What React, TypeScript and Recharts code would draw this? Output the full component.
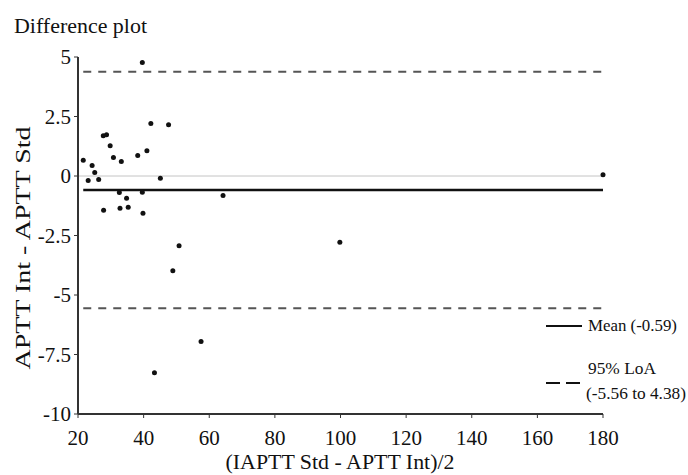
import React from 'react';
import {
  ScatterChart,
  Scatter,
  XAxis,
  YAxis,
  ReferenceLine,
} from 'recharts';

// ─── Data ─────────────────────────────────────────────────────────────────────

// mean of (APTT Std, APTT Int) pairs
const avgValues = [
  21.6, 23.1, 24.3, 25.1, 26.3, 27.7, 28.7, 29.8, 30.8, 33.2,
  38.2, 39.6, 41.0, 42.2, 47.6, 45.1, 32.6, 34.8, 39.6, 64.2,
  27.8, 32.8, 35.3, 39.8, 50.8, 48.9, 57.5, 43.3, 99.8, 180,
];

// APTT Int - APTT Std
const diffValues = [
  0.66, -0.19, 0.44, 0.15, -0.15, 1.69, 1.73, 1.27, 0.78, 0.61,
  0.86, 4.77, 1.06, 2.21, 2.15, -0.09, -0.69, -0.93, -0.68, -0.82,
  -1.44, -1.35, -1.31, -1.56, -2.93, -3.98, -6.95, -8.27, -2.78, 0.05,
];

const meanDiff = -0.59;
const loaLower = -5.56;
const loaUpper = 4.38;

const xTicks = [20, 40, 60, 80, 100, 120, 140, 160, 180];
const yTicks = [-10, -7.5, -5, -2.5, 0, 2.5, 5];

const points = avgValues.map((x, i) => ({ x, y: diffValues[i] }));
const xMin = Math.min(...avgValues);
const xMax = Math.max(...avgValues);

// ─── Styles ───────────────────────────────────────────────────────────────────

const FONT = "'Liberation Serif', 'Times New Roman', serif";

const XTick = (props: any) => (
  <text
    x={props.x}
    y={props.y}
    dy="0.71em"
    textAnchor="middle"
    fontSize={21}
    fill="#111"
    style={{ fontFamily: FONT }}
  >
    {props.payload.value}
  </text>
);

const YTick = (props: any) => (
  <text
    x={props.x}
    y={props.y}
    dy="0.35em"
    textAnchor="end"
    fontSize={21}
    fill="#111"
    style={{ fontFamily: FONT }}
  >
    {props.payload.value}
  </text>
);

const Dot = (props: any) => (
  <circle cx={props.cx} cy={props.cy} r={2.5} fill="#111" />
);

export default function App() {
  return (
    <div
      style={{
        position: 'absolute',
        left: 0,
        top: 0,
        width: 688,
        height: 475,
        background: '#fff',
        fontFamily: FONT,
      }}
    >
      <ScatterChart
        width={688}
        height={475}
        margin={{ top: 57, right: 85, bottom: 0, left: 0 }}
      >
        <XAxis
          type="number"
          dataKey="x"
          domain={[20, 180]}
          ticks={xTicks}
          interval={0}
          height={61}
          tickSize={4}
          tickMargin={12}
          axisLine={{ stroke: '#333', strokeWidth: 2 }}
          tickLine={{ stroke: '#333' }}
          tick={<XTick />}
        />
        <YAxis
          type="number"
          dataKey="y"
          domain={[-10, 5]}
          ticks={yTicks}
          interval={0}
          width={78}
          tickSize={4}
          tickMargin={3}
          axisLine={{ stroke: '#333', strokeWidth: 2 }}
          tickLine={{ stroke: '#333' }}
          tick={<YTick />}
        />
        <ReferenceLine y={0} stroke="#c4c4c4" strokeWidth={1} />
        <ReferenceLine
          segment={[{ x: xMin, y: meanDiff }, { x: xMax, y: meanDiff }]}
          stroke="#111"
          strokeWidth={2.5}
        />
        <ReferenceLine
          segment={[{ x: xMin, y: loaUpper }, { x: xMax, y: loaUpper }]}
          stroke="#555"
          strokeWidth={2}
          strokeDasharray="8 7"
        />
        <ReferenceLine
          segment={[{ x: xMin, y: loaLower }, { x: xMax, y: loaLower }]}
          stroke="#555"
          strokeWidth={2}
          strokeDasharray="8 7"
        />
        <Scatter data={points} shape={<Dot />} isAnimationActive={false} />
      </ScatterChart>

      {/* title, axis titles and legend */}
      <svg
        width={688}
        height={475}
        style={{ position: 'absolute', left: 0, top: 0, pointerEvents: 'none', fontFamily: FONT }}
        fill="#111"
      >
        <text x={14} y={33} fontSize={20} textLength={133} lengthAdjust="spacingAndGlyphs">
          Difference plot
        </text>
        <text
          x={0}
          y={0}
          fontSize={22}
          textAnchor="middle"
          transform="translate(30 248) rotate(-90)"
          textLength={243}
          lengthAdjust="spacingAndGlyphs"
        >
          APTT Int - APTT Std
        </text>
        <text x={340} y={469} fontSize={21} textAnchor="middle" textLength={229} lengthAdjust="spacingAndGlyphs">
          (IAPTT Std - APTT Int)/2
        </text>

        <line x1={546} x2={582} y1={326} y2={326} stroke="#111" strokeWidth={2} />
        <text x={588} y={331} fontSize={16} textLength={89} lengthAdjust="spacingAndGlyphs">
          Mean ({meanDiff})
        </text>
        <line x1={546} x2={582} y1={383} y2={383} stroke="#111" strokeWidth={2} strokeDasharray="14 6" />
        <text x={588} y={374} fontSize={16} textLength={68} lengthAdjust="spacingAndGlyphs">
          95% LoA
        </text>
        <text x={586} y={399} fontSize={16} textLength={100} lengthAdjust="spacingAndGlyphs">
          ({loaLower} to {loaUpper})
        </text>
      </svg>
    </div>
  );
}
